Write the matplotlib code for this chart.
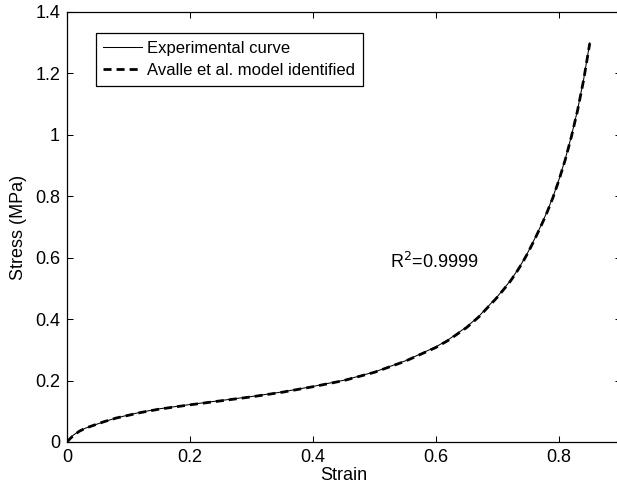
import matplotlib.pyplot as plt

plt.rcParams['font.family'] = ['Liberation Sans', 'DejaVu Sans']

# values
strain = [0, 0.005, 0.01, 0.02, 0.03, 0.04, 0.06, 0.08, 0.10, 0.12, 0.15,
          0.20, 0.25, 0.30, 0.35, 0.40, 0.45, 0.50, 0.55, 0.60, 0.62, 0.65,
          0.67, 0.70, 0.72, 0.73, 0.74, 0.75, 0.76, 0.77, 0.78, 0.79, 0.80,
          0.81, 0.82, 0.83, 0.84, 0.85]
stress_exp = [0, 0.013, 0.022, 0.036, 0.045, 0.052, 0.066, 0.078, 0.088,
              0.097, 0.108, 0.122, 0.135, 0.148, 0.163, 0.181, 0.201, 0.228,
              0.264, 0.310, 0.333, 0.375, 0.410, 0.474, 0.523, 0.552, 0.584,
              0.620, 0.660, 0.702, 0.747, 0.797, 0.855, 0.920, 0.995, 1.080,
              1.180, 1.300]
stress_model = [0, 0.011, 0.020, 0.035, 0.045, 0.052, 0.066, 0.078, 0.087,
                0.096, 0.107, 0.121, 0.134, 0.147, 0.162, 0.180, 0.200, 0.227,
                0.263, 0.308, 0.331, 0.373, 0.408, 0.472, 0.521, 0.550, 0.582,
                0.618, 0.658, 0.700, 0.745, 0.795, 0.853, 0.918, 0.993, 1.078,
                1.178, 1.298]

x_ticks = [0, 0.2, 0.4, 0.6, 0.8]
x_ticklabels = ['0', '0.2', '0.4', '0.6', '0.8']
y_ticks = [0, 0.2, 0.4, 0.6, 0.8, 1.0, 1.2, 1.4]
y_ticklabels = ['0', '0.2', '0.4', '0.6', '0.8', '1', '1.2', '1.4']

fig = plt.figure(figsize=(6.17, 4.91), dpi=100)
ax = fig.add_axes([0.1086, 0.0998, 0.8971, 0.8758])

ax.plot(strain, stress_exp, color='black', linewidth=0.75,
        label='Experimental curve')
ax.plot(strain, stress_model, color='black', linewidth=2,
        linestyle=(0, (2.9, 1.8)), label='Avalle et al. model identified')

ax.set_xlim(0, 0.9)
ax.set_ylim(0, 1.4)
ax.set_xticks(x_ticks)
ax.set_xticklabels(x_ticklabels)
ax.set_yticks(y_ticks)
ax.set_yticklabels(y_ticklabels)
ax.tick_params(direction='in', length=4, width=0.75, labelsize=13,
               top=True, right=True, pad=5)
for s in ax.spines.values():
    s.set_linewidth(0.9)

ax.set_xlabel('Strain', fontsize=13, labelpad=1)
ax.set_ylabel('Stress (MPa)', fontsize=13, labelpad=6)

ax.text(0.525, 0.585, 'R$^2$=0.9999', fontsize=13, va='center', ha='left')

leg = ax.legend(loc='upper left', bbox_to_anchor=(0.052, 0.951),
                borderaxespad=0, fontsize=12, handlelength=2.3,
                handletextpad=0.35, labelspacing=0.45, borderpad=0.45,
                fancybox=False, framealpha=1, edgecolor='black')
leg.get_frame().set_linewidth(0.9)

fig.savefig('out.png', dpi=100)
